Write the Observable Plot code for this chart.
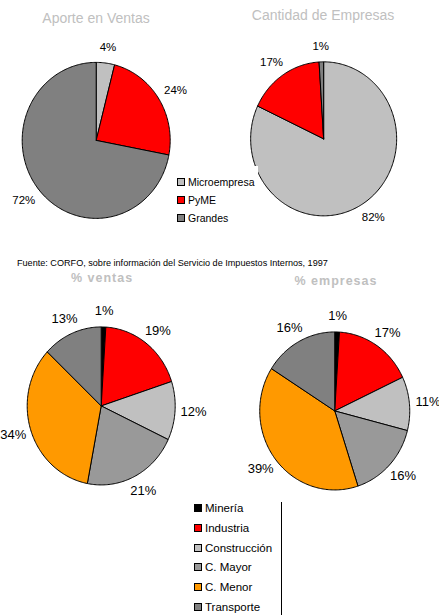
<!DOCTYPE html>
<html><head><meta charset="utf-8">
<script src="https://cdn.jsdelivr.net/npm/d3@7"></script>
<script src="https://cdn.jsdelivr.net/npm/@observablehq/plot@0.6"></script>
<style>
body{margin:0;background:#fff;font-family:Arial,"Liberation Sans",sans-serif}
#root{position:relative;width:439px;height:615px;overflow:hidden;background:#fff}
.abs{position:absolute;white-space:nowrap}
.title{color:#C0C0C0;font-size:14px;transform:translate(-50%,-50%)}
.sub{color:#C0C0C0;font-size:12.5px;font-weight:bold;letter-spacing:1px;transform:translate(-50%,-50%)}
.leg{position:absolute;background:#fff}
.row{position:absolute;display:flex;align-items:center;color:#000}
.sw{display:inline-block;box-sizing:border-box;border:1px solid #000;margin-right:3px}
</style>
</head><body><div id="root"></div>
<script>
// ---- data ----
const sizeCategories = ["Microempresa", "PyME", "Grandes"];
const ventasBySize = [4, 24, 72];
const empresasBySize = [82, 17, 1];
const sectorCategories = ["Minería", "Industria", "Construcción", "C. Mayor", "C. Menor", "Transporte"];
const ventasBySector = [1, 19, 12, 21, 34, 13];
const empresasBySector = [1, 17, 11, 16, 39, 16];
const sizeColors = ["#C0C0C0", "#FF0000", "#808080"];
const sectorColors = ["#000000", "#FF0000", "#C0C0C0", "#999999", "#FF9900", "#808080"];
const titleTopLeft = "Aporte en Ventas";
const titleTopRight = "Cantidad de Empresas";
const titleBottomLeft = "% ventas";
const titleBottomRight = "% empresas";
const sourceText = "Fuente: CORFO, sobre información del Servicio de Impuestos Internos, 1997";

const root = document.getElementById("root");

function pieChart(cats, vals, colors, o) {
  const k = 1.55;
  const rows = cats.map((c, i) => ({cat: c, value: vals[i]}));
  const arcs = d3.pie().sort(null).value(d => d.value)(rows);
  const pts = [];
  arcs.forEach(a => {
    pts.push({cat: a.data.cat, x: 0, y: 0});
    const n = Math.max(2, Math.ceil((a.endAngle - a.startAngle) / (Math.PI / 180)));
    for (let j = 0; j <= n; j++) {
      const t = a.startAngle + (a.endAngle - a.startAngle) * j / n;
      pts.push({cat: a.data.cat, x: Math.sin(t), y: Math.cos(t)});
    }
    pts.push({cat: a.data.cat, x: 0, y: 0});
  });
  const labels = arcs.map(a => {
    const m = (a.startAngle + a.endAngle) / 2;
    return {x: o.lx * Math.sin(m), y: o.ly * Math.cos(m), text: a.data.value + "%"};
  });
  const W = 2 * o.rx * k, H = 2 * o.ry * k;
  const svg = Plot.plot({
    width: W, height: H, margin: 0,
    style: {background: "transparent", overflow: "visible", fontFamily: "Arial, 'Liberation Sans', sans-serif"},
    x: {domain: [-k, k], axis: null},
    y: {domain: [-k, k], axis: null},
    color: {domain: cats, range: colors},
    marks: [
      Plot.line(pts, {x: "x", y: "y", z: "cat", fill: "cat", stroke: "#000", strokeWidth: 1, curve: "linear", strokeLinejoin: "round"}),
      Plot.text(labels, {x: "x", y: "y", text: "text", fontSize: o.fs, fill: "#000"})
    ]
  });
  svg.style.position = "absolute";
  svg.style.left = (o.cx - o.rx * k) + "px";
  svg.style.top = (o.cy - o.ry * k) + "px";
  svg.style.maxWidth = "none";
  root.appendChild(svg);
}

function addText(txt, cls, x, y, extra) {
  const d = document.createElement("div");
  d.className = "abs " + cls;
  d.textContent = txt;
  d.style.left = x + "px"; d.style.top = y + "px";
  if (extra) Object.assign(d.style, extra);
  root.appendChild(d);
}

function legend(cats, colors, o) {
  const box = document.createElement("div");
  box.className = "leg";
  Object.assign(box.style, {left: o.bx + "px", top: o.by + "px", width: o.bw + "px", height: o.bh + "px"});
  root.appendChild(box);
  cats.forEach((c, i) => {
    const r = document.createElement("div");
    r.className = "row";
    r.style.left = (o.x - o.bx) + "px";
    r.style.top = (o.y0 + i * o.dy - o.by - o.fs * 0.6) + "px";
    r.style.fontSize = o.fs + "px";
    r.style.height = (o.fs * 1.2) + "px";
    const s = document.createElement("span");
    s.className = "sw";
    s.style.width = o.sw + "px"; s.style.height = o.sw + "px";
    s.style.background = colors[i];
    r.appendChild(s);
    r.appendChild(document.createTextNode(c));
    box.appendChild(r);
  });
}

pieChart(sizeCategories, ventasBySize, sizeColors, {cx: 96, cy: 140, rx: 74, ry: 78, lx: 1.27, ly: 1.2, fs: 11.5});
pieChart(sizeCategories, empresasBySize, sizeColors, {cx: 323, cy: 138, rx: 73, ry: 77, lx: 1.27, ly: 1.2, fs: 11.5});
pieChart(sectorCategories, ventasBySector, sectorColors, {cx: 101, cy: 405, rx: 74, ry: 79, lx: 1.25, ly: 1.2, fs: 13});
pieChart(sectorCategories, empresasBySector, sectorColors, {cx: 334, cy: 410, rx: 75, ry: 79, lx: 1.25, ly: 1.2, fs: 13});

addText(titleTopLeft, "title", 96, 18);
addText(titleTopRight, "title", 323, 15);
addText(titleBottomLeft, "sub", 102, 278);
addText(titleBottomRight, "sub", 336, 281);
addText(sourceText, "", 17, 263, {fontSize: "9.1px", color: "#000", transform: "translateY(-50%)"});

legend(sizeCategories, sizeColors, {bx: 174, by: 166, bw: 84, bh: 62, x: 177, y0: 182, dy: 18, fs: 10.5, sw: 8});
legend(sectorCategories, sectorColors, {bx: 190, by: 498, bw: 90, bh: 117, x: 194, y0: 508, dy: 19.8, fs: 11.5, sw: 8});

const vline = document.createElement("div");
Object.assign(vline.style, {position: "absolute", left: "281px", top: "502px", width: "1px", height: "113px", background: "#000"});
root.appendChild(vline);
</script>
</body></html>
